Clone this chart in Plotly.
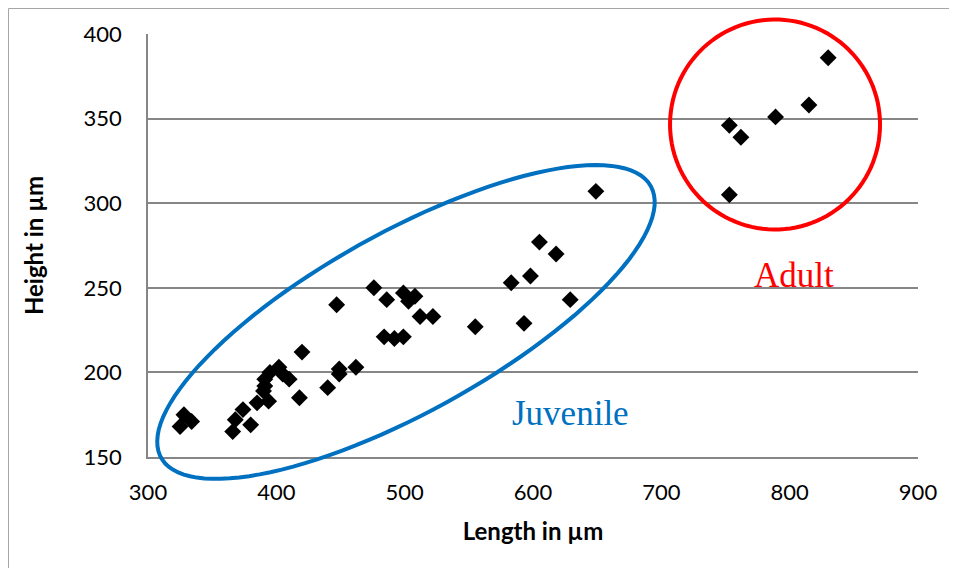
import numpy as np
import plotly.graph_objects as go

# juvenile specimens (length, height in µm)
juv_length = [325, 328, 334, 366, 368, 374, 380, 385, 390, 391, 391, 394, 395, 402, 405, 410,
              418, 420, 440, 447, 449, 449, 462, 476, 486, 484, 492, 499, 499, 503, 508,
              512, 522, 555, 583, 593, 598, 605, 618, 629, 649]
juv_height = [168, 175, 171, 165, 172, 178, 169, 182, 189, 192, 196, 183, 200, 203, 199, 196,
              185, 212, 191, 240, 202, 199, 203, 250, 243, 221, 220, 221, 247, 242, 245,
              233, 233, 227, 253, 229, 257, 277, 270, 243, 307]

# adult specimens
adult_length = [753, 762, 753, 789, 815, 830]
adult_height = [346, 339, 305, 351, 358, 386]

x_ticks = [300, 400, 500, 600, 700, 800, 900]
y_ticks = [150, 200, 250, 300, 350, 400]

# page body has an 8px margin, keep the figure inside the window
W, H = 941, 560
L, R, T, B = 140, 31, 26, 111
pw, ph = W - L - R, H - T - B
xr, yr = (300, 900), (150, 400)


def to_paper(x, y):
    return (x - xr[0]) / (xr[1] - xr[0]), (y - yr[0]) / (yr[1] - yr[0])


def ellipse_path(cx, cy, a_px, b_px, angle_deg, n=120):
    # ellipse drawn in screen pixels around a data-space centre
    px0, py0 = to_paper(cx, cy)
    t = np.linspace(0, 2 * np.pi, n)
    th = np.radians(angle_deg)
    dx = a_px * np.cos(t) * np.cos(th) - b_px * np.sin(t) * np.sin(th)
    dy = a_px * np.cos(t) * np.sin(th) + b_px * np.sin(t) * np.cos(th)
    xs = px0 + dx / pw
    ys = py0 + dy / ph
    pts = " L".join(f"{x:.4f},{y:.4f}" for x, y in zip(xs, ys))
    return "M" + pts + " Z"


fig = go.Figure()
fig.add_trace(go.Scatter(x=juv_length, y=juv_height, mode="markers",
                         marker=dict(symbol="diamond", size=13, color="black"),
                         showlegend=False))
fig.add_trace(go.Scatter(x=adult_length, y=adult_height, mode="markers",
                         marker=dict(symbol="diamond", size=13, color="black"),
                         showlegend=False))

frame_x0 = (0.5 - L) / pw
frame_y1 = (ph + T - 0.5) / ph
shapes = [
    dict(type="path", xref="paper", yref="paper",
         path=ellipse_path(501, 229.8, 280, 90, 29),
         line=dict(color="#0070C0", width=4)),
    dict(type="path", xref="paper", yref="paper",
         path=ellipse_path(788.6, 346.5, 105, 105, 0),
         line=dict(color="#FF0000", width=4)),
    # outer chart frame, only left and top edges are in view
    dict(type="line", xref="paper", yref="paper",
         x0=frame_x0, x1=frame_x0, y0=-B / ph, y1=frame_y1,
         line=dict(color="#A6A6A6", width=1)),
    dict(type="line", xref="paper", yref="paper",
         x0=frame_x0, x1=(W - L) / pw, y0=frame_y1, y1=frame_y1,
         line=dict(color="#A6A6A6", width=1)),
]

fig.update_layout(
    width=W, height=H,
    margin=dict(l=L, r=R, t=T, b=B),
    plot_bgcolor="white", paper_bgcolor="white",
    font=dict(family="Lato", color="black"),
    shapes=shapes,
    annotations=[
        dict(x=629.6, y=176, text="Juvenile", showarrow=False,
             font=dict(family="Liberation Serif", size=35, color="#0070C0")),
        dict(x=803.4, y=257, text="Adult", showarrow=False,
             font=dict(family="Liberation Serif", size=35, color="#FF0000")),
    ],
)
fig.update_xaxes(range=xr, tickvals=x_ticks, showgrid=False, zeroline=False, automargin=False,
                 showline=True, linecolor="#868686", linewidth=1.5,
                 tickfont=dict(size=22), ticklabelstandoff=15,
                 title=dict(text="<b>Length in µm</b>", font=dict(size=24), standoff=19))
fig.update_yaxes(range=yr, tickvals=y_ticks, showgrid=True, gridcolor="#868686", gridwidth=1.5,
                 zeroline=False, showline=True, linecolor="#868686", linewidth=1.5, automargin=False,
                 tickfont=dict(size=22), ticklabelstandoff=20,
                 title=dict(text="<b>Height in µm</b>", font=dict(size=24), standoff=33))

fig.write_html("out.html")
